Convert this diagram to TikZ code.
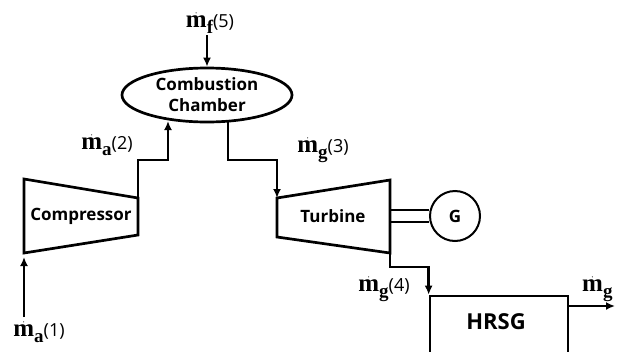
\documentclass[tikz,border=0pt]{standalone}
\usepackage{fontspec}
\setsansfont{Open Sans}
\newfontfamily\mfont{Liberation Serif}
\usetikzlibrary{shapes.geometric,arrows.meta}

\tikzset{
  unit/.style={line width=2.7pt, line join=miter},
  pipe/.style={line width=2.6pt},
  flow/.style={pipe, -{Latex[length=9pt,width=8pt]}},
  lbl/.style={font=\sffamily\bfseries\fontsize{17}{21}\selectfont, align=center, inner sep=0pt},
  rate/.style={inner sep=0pt, anchor=base}
}
\newcommand{\mflow}[2]{$\dot{\hbox{\mfont\bfseries\fontsize{25}{28}\selectfont m}}$\raisebox{-6pt}{\mfont\bfseries\fontsize{19}{20}\selectfont #1}{\fontsize{18}{20}\selectfont\sffamily #2}}

\begin{document}
\begin{tikzpicture}[x=1pt,y=-1pt]
  \useasboundingbox (0,0) rectangle (617,351);

  % combustion chamber
  \node[ellipse, draw, line width=2.7pt, minimum width=170pt, minimum height=54pt, lbl] (cc) at (207,95) {Combustion\\Chamber};
  \node[rate] (fuel) at (210,27) {\mflow{f}{(5)}};
  \coordinate (fuelin) at (207,35);
  \draw[flow] (fuelin) -- (cc.north);

  % compressor
  \coordinate (cp1) at (24,179);
  \coordinate (cp2) at (138,198);
  \coordinate (cp3) at (138,235);
  \coordinate (cp4) at (24,253);
  \draw[unit] (cp1) -- (cp2) -- (cp3) -- (cp4) -- cycle;
  \node[lbl] (comp) at (81,216) {Compressor};

  % turbine
  \coordinate (tb1) at (277,198);
  \coordinate (tb2) at (390,180);
  \coordinate (tb3) at (390,253);
  \coordinate (tb4) at (277,237);
  \draw[unit] (tb1) -- (tb2) -- (tb3) -- (tb4) -- cycle;
  \node[lbl] (turb) at (333,216) {Turbine};

  % generator and shaft
  \node[circle, draw, line width=2pt, minimum size=50pt, lbl] (gen) at (455,216) {G};
  \coordinate (sh1) at (390,210);
  \coordinate (sh2) at (390,222);
  \draw[line width=1.8pt] (sh1) -- (sh1 -| gen.west) (sh2) -- (sh2 -| gen.west);

  % HRSG
  \node[draw, line width=2.7pt, minimum width=138pt, minimum height=60pt] (hrsg) at (499,326) {};
  \node[lbl, font=\sffamily\bfseries\fontsize{22}{26}\selectfont] (hrsgtxt) at (496,322) {HRSG};

  % streams
  \coordinate (airin) at (24,317);
  \draw[flow] (airin) -- ([yshift=-4pt]cp4);
  \node[rate] (air1) at (39,336) {\mflow{a}{(1)}};

  \coordinate (cpbend) at (168,160);
  \coordinate (ccin) at (168,121);
  \draw[flow] (cp2) |- (cpbend) -- (ccin);
  \node[rate] (air2) at (107,149) {\mflow{a}{(2)}};

  \coordinate (ccout) at (228,121);
  \coordinate (tbbend) at (228,160);
  \draw[flow] (ccout) -- (tbbend) -| (tb1);
  \node[rate] (gas3) at (323,152) {\mflow{g}{(3)}};

  \coordinate (tbout) at (390,267);
  \draw[flow] (tb3) -- (tbout) -| (hrsg.north west);
  \node[rate] (gas4) at (384,291) {\mflow{g}{(4)}};

  \coordinate (hrsgout) at (568,306);
  \coordinate (gasend) at (615,306);
  \draw[flow] (hrsgout) -- (gasend);
  \node[rate, anchor=base west] (gas6) at (582,291) {\mflow{g}{}};
\end{tikzpicture}
\end{document}
